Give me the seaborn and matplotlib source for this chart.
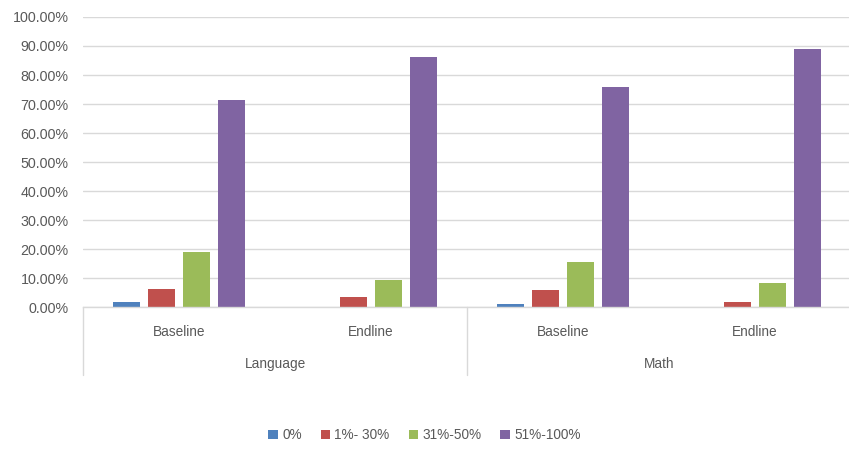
import matplotlib
matplotlib.use("Agg")
import matplotlib.pyplot as plt
import seaborn as sns
import pandas as pd
from matplotlib.ticker import PercentFormatter
from matplotlib.patches import Patch

subjects = ["Language", "Language", "Math", "Math"]
phases = ["Baseline", "Endline", "Baseline", "Endline"]
bands = ["0%", "1%- 30%", "31%-50%", "51%-100%"]
v_0 = [1.8, 0.0, 0.9, 0.0]
v_1_30 = [6.3, 3.3, 5.9, 1.8]
v_31_50 = [19.1, 9.5, 15.6, 8.2]
v_51_100 = [71.4, 86.2, 76.0, 88.9]
colors = ["#4F81BD", "#C0504D", "#9BBB59", "#8064A2"]

rows = []
for i in range(len(subjects)):
    key = f"{subjects[i]}|{phases[i]}"
    for b, vals in zip(bands, [v_0, v_1_30, v_31_50, v_51_100]):
        rows.append({"cat": key, "band": b, "value": vals[i] / 100.0})
df = pd.DataFrame(rows)
order = [f"{s}|{p}" for s, p in zip(subjects, phases)]

sns.set_theme(style="white")
plt.rcParams["font.family"] = ["Liberation Sans", "DejaVu Sans"]
fig = plt.figure(figsize=(8.49, 4.59), dpi=100)
ax = fig.add_axes([0.098, 0.331, 0.904, 0.632])

sns.barplot(data=df, x="cat", y="value", hue="band", order=order, hue_order=bands,
            palette=colors, width=0.73, gap=0.23, ax=ax, legend=False,
            saturation=1, edgecolor="none")

ax.set_xlim(-0.5, 3.5)
ax.set_ylim(0, 1.0)
ax.set_yticks([i / 10 for i in range(11)])
ax.yaxis.set_major_formatter(PercentFormatter(1.0, decimals=2))
ax.tick_params(axis="y", labelsize=10.3, colors="#595959", length=0, pad=10.5)
ax.set_xticks([])
ax.set_xlabel("")
ax.set_ylabel("")
ax.grid(axis="y", color="#D9D9D9", linewidth=1)
ax.set_axisbelow(True)
for s in ["top", "right", "left"]:
    ax.spines[s].set_visible(False)
ax.spines["bottom"].set_color("#D9D9D9")
ax.spines["bottom"].set_linewidth(1)

trans = ax.get_xaxis_transform()
for i, p in enumerate(phases):
    ax.text(i, -0.087, p, transform=trans, ha="center", va="center",
            fontsize=9.8, color="#595959")
subj_unique = []
for i, s in enumerate(subjects):
    if not subj_unique or subj_unique[-1][0] != s:
        subj_unique.append([s, i, i])
    else:
        subj_unique[-1][2] = i
for s, a, b in subj_unique:
    ax.text((a + b) / 2, -0.197, s, transform=trans, ha="center", va="center",
            fontsize=9.8, color="#595959")
    ax.plot([a - 0.5, a - 0.5], [0, -0.235], transform=trans, color="#D9D9D9",
            linewidth=1, clip_on=False)

handles = [Patch(facecolor=c, edgecolor="none") for c in colors]
fig.legend(handles, bands, loc="center", bbox_to_anchor=(0.5, 0.052), ncol=4,
           frameon=False, fontsize=9.8, handlelength=0.7, handleheight=0.7,
           handletextpad=0.3, columnspacing=1.4, labelcolor="#595959")

fig.savefig("out.png", dpi=100)
